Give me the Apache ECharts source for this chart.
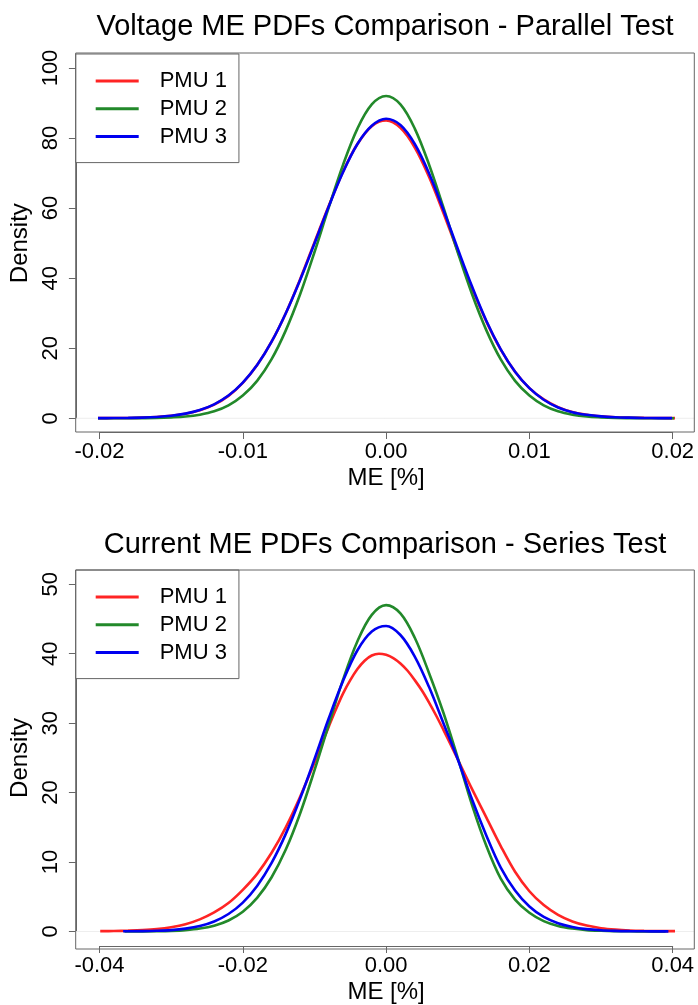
<!DOCTYPE html>
<html><head><meta charset="utf-8">
<script src="https://cdn.jsdelivr.net/npm/echarts@6/dist/echarts.min.js"></script>
<style>html,body{margin:0;padding:0;background:#fff}#c{width:698px;height:1005px}</style>
</head><body><div id="c"></div><script>
// ---------- DATA ----------
const seriesNames = ['PMU 1', 'PMU 2', 'PMU 3'];
const titles = ['Voltage ME PDFs Comparison - Parallel Test', 'Current ME PDFs Comparison - Series Test'];
const xTitle = 'ME [%]';
const yTitle = 'Density';

// Panel 1 (Voltage)
const vTicksX = [-0.02, -0.01, 0.00, 0.01, 0.02];
const vTicksY = [0, 20, 40, 60, 80, 100];
const vX1 = [-0.0207,-0.020,-0.019,-0.018,-0.017,-0.016,-0.015,-0.014,-0.013,-0.012,-0.011,-0.010,-0.009,-0.008,-0.007,-0.006,-0.005,-0.004,-0.003,-0.002,-0.001,0.000,0.001,0.002,0.003,0.004,0.005,0.006,0.007,0.008,0.009,0.010,0.011,0.012,0.013,0.014,0.015,0.016,0.017,0.018,0.019,0.020,0.02045];
const vY1 = [0.04,0.05,0.07,0.1,0.18,0.36,0.69,1.29,2.3,3.9,6.4,10.1,15.2,21.8,30.0,39.7,50.2,60.7,70.5,78.3,83.4,85.0,82.9,77.3,68.9,58.6,47.7,37.1,27.6,19.6,13.3,8.6,5.4,3.2,1.8,1.0,0.55,0.3,0.18,0.11,0.07,0.05,0.04];
const vX2 = [-0.0205,-0.020,-0.019,-0.018,-0.017,-0.016,-0.015,-0.014,-0.013,-0.012,-0.011,-0.010,-0.009,-0.008,-0.007,-0.006,-0.005,-0.004,-0.003,-0.002,-0.001,0.000,0.001,0.002,0.003,0.004,0.005,0.006,0.007,0.008,0.009,0.010,0.011,0.012,0.013,0.014,0.015,0.016,0.017,0.018,0.019,0.020,0.0201];
const vY2 = [0.02,0.02,0.02,0.03,0.05,0.1,0.25,0.5,1.04,2.0,3.7,6.5,10.7,16.8,25.1,35.4,47.4,60.2,72.4,82.7,89.6,92.0,89.6,82.7,72.4,60.2,47.4,35.4,25.1,16.8,10.7,6.5,3.7,2.0,1.04,0.5,0.25,0.1,0.05,0.03,0.02,0.02,0.02];
const vX3 = [-0.0207,-0.020,-0.019,-0.018,-0.017,-0.016,-0.015,-0.014,-0.013,-0.012,-0.011,-0.010,-0.009,-0.008,-0.007,-0.006,-0.005,-0.004,-0.003,-0.002,-0.001,0.000,0.001,0.002,0.003,0.004,0.005,0.006,0.007,0.008,0.009,0.010,0.011,0.012,0.013,0.014,0.015,0.016,0.017,0.018,0.019,0.01995];
const vY3 = [0.04,0.05,0.07,0.12,0.2,0.38,0.72,1.33,2.36,4.0,6.5,10.2,15.2,21.8,30.0,39.5,49.9,60.5,70.3,78.3,83.5,85.5,83.7,78.3,69.9,59.5,48.4,37.6,27.8,19.7,13.3,8.6,5.3,3.1,1.75,1.0,0.55,0.3,0.18,0.1,0.06,0.04];

// Panel 2 (Current)
const cTicksX = [-0.04, -0.02, 0.00, 0.02, 0.04];
const cTicksY = [0, 10, 20, 30, 40, 50];
const cX1 = [-0.0399,-0.038,-0.036,-0.034,-0.032,-0.030,-0.028,-0.026,-0.024,-0.022,-0.020,-0.018,-0.016,-0.014,-0.012,-0.010,-0.009,-0.008,-0.007,-0.006,-0.005,-0.004,-0.003,-0.002,-0.001,0.000,0.001,0.002,0.003,0.004,0.005,0.006,0.007,0.008,0.009,0.010,0.012,0.014,0.016,0.018,0.020,0.022,0.024,0.026,0.028,0.030,0.032,0.034,0.036,0.038,0.040,0.0414];
const cY1 = [0.05,0.07,0.12,0.2,0.35,0.62,1.05,1.75,2.75,4.1,6.0,8.3,11.3,15.0,19.4,24.3,26.95,29.5,32.0,34.3,36.2,37.8,39.0,39.75,40.0,39.84,39.37,38.6,37.55,36.2,34.7,32.96,31.07,29.04,26.95,24.8,20.5,16.4,12.3,8.6,5.8,3.8,2.4,1.45,0.85,0.48,0.27,0.15,0.09,0.06,0.05,0.04];
const cX2 = [-0.0365,-0.034,-0.032,-0.030,-0.028,-0.026,-0.024,-0.022,-0.020,-0.018,-0.016,-0.014,-0.012,-0.010,-0.008,-0.006,-0.004,-0.002,0.000,0.002,0.004,0.006,0.008,0.010,0.012,0.014,0.016,0.018,0.020,0.022,0.024,0.026,0.028,0.030,0.032,0.034,0.036,0.038,0.039];
const cY2 = [0.02,0.02,0.04,0.09,0.2,0.42,0.84,1.59,2.85,4.84,7.78,11.8,17.0,23.2,29.8,36.3,41.8,45.6,47.0,45.8,42.3,37.2,31.5,25.0,18.2,12.3,7.6,4.6,2.7,1.5,0.8,0.42,0.2,0.1,0.05,0.03,0.02,0.02,0.02];
const cX3 = [-0.0367,-0.036,-0.034,-0.032,-0.030,-0.028,-0.026,-0.024,-0.022,-0.020,-0.018,-0.016,-0.014,-0.012,-0.010,-0.008,-0.006,-0.004,-0.002,0.000,0.002,0.004,0.006,0.008,0.010,0.012,0.014,0.016,0.018,0.020,0.022,0.024,0.026,0.028,0.030,0.032,0.034,0.036,0.038,0.0394];
const cY3 = [0.03,0.03,0.05,0.1,0.2,0.41,0.79,1.45,2.52,4.16,6.56,9.84,14.06,19.15,24.8,30.7,36.1,40.5,43.2,44.0,42.7,39.6,35.2,30.0,24.8,19.0,13.8,9.2,5.9,3.6,2.1,1.2,0.66,0.34,0.17,0.09,0.05,0.03,0.02,0.02];

// ---------- STYLE / LAYOUT ----------
const colors = ['#ff2424', '#22892a', '#0000f0'];
const FONT = 'Liberation Sans, Arial, Helvetica, sans-serif';
const frameColor = '#666';
const panels = [
  { grid: {left: 99.3, right: 25.3, top: 68, height: 350.3}, frame: {x: 75.7, y: 53, w: 618.6, h: 379}, xOff: 13.7,
    xs: [vX1, vX2, vX3], ys: [vY1, vY2, vY3], tx: vTicksX, ty: vTicksY, titleY: 27, legendTop: 54 },
  { grid: {left: 99.3, right: 25.3, top: 584.3, height: 350.2}, frame: {x: 75.7, y: 570, w: 618.6, h: 379}, xOff: 14.5,
    xs: [cX1, cX2, cX3], ys: [cY1, cY2, cY3], tx: cTicksX, ty: cTicksY, titleY: 545, legendTop: 570 }
];

function pairs(xs, ys) { return xs.map((x, i) => [x, ys[i]]); }

const chart = echarts.init(document.getElementById('c'), null, {renderer: 'canvas'});
const option = {
  animation: false,
  backgroundColor: '#fff',
  grid: panels.map(p => p.grid),
  xAxis: panels.map((p, i) => ({
    gridIndex: i, type: 'value',
    min: p.tx[0], max: p.tx[p.tx.length - 1], interval: p.tx[1] - p.tx[0],
    offset: p.xOff,
    axisLine: {show: true, onZero: false, lineStyle: {color: frameColor, width: 1}},
    axisTick: {show: true, length: 7, lineStyle: {color: frameColor}},
    axisLabel: {fontSize: 22, color: '#000', fontFamily: FONT, margin: 9,
      formatter: v => (Math.abs(v) < 1e-12 ? 0 : v).toFixed(2), showMinLabel: true, showMaxLabel: true, hideOverlap: false},
    splitLine: {show: false},
    name: xTitle, nameLocation: 'middle', nameGap: 34,
    nameTextStyle: {fontSize: 24, color: '#000', fontFamily: FONT}
  })),
  yAxis: panels.map((p, i) => ({
    gridIndex: i, type: 'value',
    min: p.ty[0], max: p.ty[p.ty.length - 1], interval: p.ty[1] - p.ty[0],
    offset: 23.6,
    axisLine: {show: true, onZero: false, lineStyle: {color: frameColor, width: 1}},
    axisTick: {show: true, length: 7, lineStyle: {color: frameColor}},
    axisLabel: {fontSize: 22, color: '#000', fontFamily: FONT, rotate: 90, margin: 14, hideOverlap: false},
    splitLine: {show: false},
    name: yTitle, nameLocation: 'middle', nameGap: 40, nameRotate: 90,
    nameTextStyle: {fontSize: 24, color: '#000', fontFamily: FONT}
  })),
  legend: panels.map(p => ({
    orient: 'vertical', left: 75.7, top: p.legendTop,
    padding: [16, 12, 15, 20], itemGap: 5.8, itemWidth: 43, itemHeight: 3, icon: 'rect',
    borderColor: frameColor, borderWidth: 1, backgroundColor: '#fff',
    selectedMode: false,
    textStyle: {fontSize: 22, lineHeight: 22, color: '#000', fontFamily: FONT, padding: [0, 0, 0, 16]},
    data: seriesNames
  })),
  series: []
};
panels.forEach((p, pi) => {
  seriesNames.forEach((n, si) => {
    option.series.push({
      name: n, type: 'line', xAxisIndex: pi, yAxisIndex: pi,
      data: pairs(p.xs[si], p.ys[si]), smooth: 0.35, symbol: 'none', showSymbol: false,
      clip: false, color: colors[si],
      lineStyle: {width: 2.6, color: colors[si]}, z: 2 + si
    });
  });
});
chart.setOption(option);

// frames, zero lines, titles
const g = [];
panels.forEach((p, pi) => {
  const f = p.frame;
  const y0 = chart.convertToPixel({gridIndex: pi}, [0, 0])[1];
  g.push({type: 'line', z: 1, shape: {x1: f.x, y1: y0, x2: f.x + f.w, y2: y0}, style: {stroke: '#eeeeee', lineWidth: 1}});
  g.push({type: 'rect', z: 10, shape: {x: f.x, y: f.y, width: f.w, height: f.h}, style: {fill: 'none', stroke: frameColor, lineWidth: 1}});
  g.push({type: 'text', z: 10, x: f.x + f.w / 2, y: p.titleY,
    style: {text: titles[pi], fontSize: 29, fontFamily: FONT, fill: '#000', textAlign: 'center', textVerticalAlign: 'middle'}});
});
chart.setOption({graphic: g});
</script></body></html>
